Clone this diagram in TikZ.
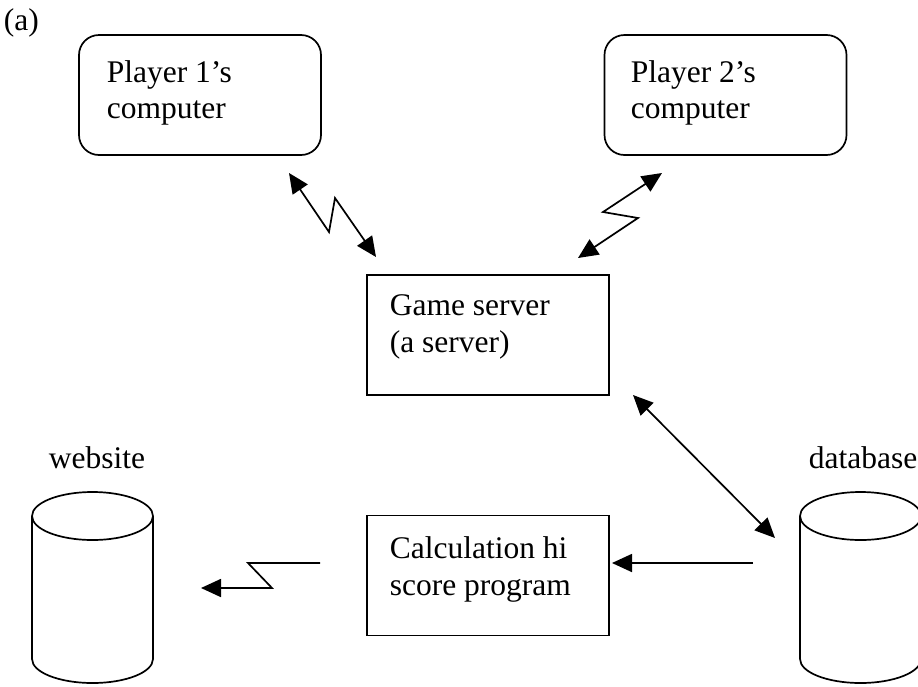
\documentclass[tikz,border=0pt]{standalone}
\usepackage{fontspec}
\setmainfont{Liberation Serif}
\usetikzlibrary{arrows.meta}
\begin{document}
\begin{tikzpicture}[x=1pt,y=-1pt,
  line width=1.7pt,
  txt/.style={anchor=base west,inner sep=0pt,font=\fontsize{31.5}{36}\selectfont},
  ctxt/.style={anchor=base,inner sep=0pt,font=\fontsize{31.5}{36}\selectfont},
  rbox/.style={draw,rounded corners=20pt,minimum width=242pt,minimum height=120pt,inner sep=0pt},
  sbox/.style={draw,minimum width=242pt,minimum height=120pt,inner sep=0pt},
  tip/.style={-{Triangle[length=20pt,width=18pt]}},
  dtip/.style={{Triangle[length=20pt,width=18pt]}-{Triangle[length=20pt,width=18pt]}},
  line/.style={line width=1.7pt,line join=miter}]
\useasboundingbox (0,0) rectangle (918,686);
\clip (0,0) rectangle (918,686);
% label (a)
\node[txt] (lab) at (3,30) {(a)};
% boxes
\node[rbox] (p1) at (200,95) {};
\node[txt] (p1a) at (106,82) {Player 1’s};
\node[txt] (p1b) at (106,118) {computer};
\node[rbox] (p2) at (725.5,95) {};
\node[txt] (p2a) at (630,82) {Player 2’s};
\node[txt] (p2b) at (630,118) {computer};
\node[sbox] (gs) at (488,335) {};
\node[txt] (gsa) at (389,315) {Game server};
\node[txt] (gsb) at (389,352) {(a server)};
\node[sbox] (calc) at (488,575.5) {};
\node[txt] (ca) at (389,558) {Calculation hi};
\node[txt] (cb) at (389,595) {score program};
% cylinders
\node[ctxt] (web) at (97,468) {website};
\node[txt] (db) at (808,468) {database};
\draw[line] (92.5,516) ellipse [x radius=60.5, y radius=24];
\draw[line] (32,516) -- (32,659) .. controls (32,672.3) and (59.1,683) .. (92.5,683)
  .. controls (125.9,683) and (153,672.3) .. (153,659) -- (153,516);
\draw[line] (860.5,516) ellipse [x radius=60.5, y radius=24];
\draw[line] (800,516) -- (800,659) .. controls (800,672.3) and (827.1,683) .. (860.5,683)
  .. controls (893.9,683) and (921,672.3) .. (921,659) -- (921,516);
% connector points
\coordinate (a1) at (289,173);
\coordinate (a2) at (329,232);
\coordinate (a3) at (335,198);
\coordinate (a4) at (376,257);
\coordinate (b1) at (662,173);
\coordinate (b2) at (603,212);
\coordinate (b3) at (638,218);
\coordinate (b4) at (578,258);
\coordinate (c1) at (633,395);
\coordinate (c2) at (775,538);
\coordinate (d1) at (753,563);
\coordinate (d2) at (612,563);
\coordinate (e1) at (320,563);
\coordinate (e2) at (248,563);
\coordinate (e3) at (272,588);
\coordinate (e4) at (201,588);
\draw[line,dtip] (a1) -- (a2) -- (a3) -- (a4);
\draw[line,dtip] (b1) -- (b2) -- (b3) -- (b4);
\draw[line,dtip] (c1) -- (c2);
\draw[line,tip] (d1) -- (d2);
\draw[line,tip] (e1) -- (e2) -- (e3) -- (e4);
\end{tikzpicture}
\end{document}
